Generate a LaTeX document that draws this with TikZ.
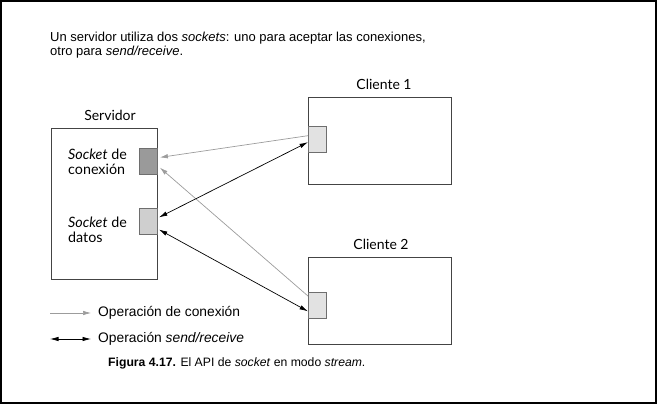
\documentclass[tikz,border=0pt]{standalone}
\usepackage{fontspec}
\setmainfont{Liberation Sans}
\newfontfamily\labfont{Lato}
\usetikzlibrary{arrows.meta,calc}
\definecolor{boxline}{HTML}{444444}
\definecolor{connfill}{HTML}{9A9A9A}
\definecolor{datafill}{HTML}{CFCFCF}
\definecolor{clifill}{HTML}{E2E2E2}
\definecolor{sockline}{HTML}{6E6E6E}
\definecolor{grayline}{HTML}{9C9C9C}
\tikzset{
  hostbox/.style={draw=boxline, line width=0.9pt, fill=white, inner sep=0pt, anchor=north west},
  sockbox/.style={draw=sockline, line width=0.9pt, inner sep=0pt, minimum width=18pt, minimum height=26pt, anchor=north west},
  hostlab/.style={font=\labfont\fontsize{14}{15}\selectfont, anchor=base},
  socklab/.style={font=\labfont\fontsize{14.3}{15}\selectfont, align=left, anchor=base west, inner sep=0pt},
  connarrow/.style={draw=grayline, line width=0.7pt, -{Latex[length=8pt,width=4.5pt]}},
  sendarrow/.style={draw=black, line width=0.7pt, {Latex[length=8.5pt,width=4.5pt]}-{Latex[length=8.5pt,width=4.5pt]}},
  intro/.style={font=\fontsize{13}{14}\selectfont, anchor=base west, inner sep=0pt},
  legtext/.style={font=\fontsize{13.8}{15}\selectfont, anchor=west, inner sep=0pt},
  captext/.style={font=\fontsize{12.2}{14}\selectfont, anchor=base west, inner sep=0pt}
}
\begin{document}
\begin{tikzpicture}[x=1pt,y=-1pt]
\useasboundingbox (0,0) rectangle (657,404);
\draw[line width=2pt] (1,1) rectangle (656,403);
% intro text
\node[intro] (t1) at (50,42) {Un servidor utiliza dos \textit{sockets}: uno para aceptar las conexiones,};
\node[intro] (t2) at (50,56) {otro para \textit{send/receive}.};
% server
\node[hostbox, minimum width=106pt, minimum height=151pt] (srv) at (51,128) {};
\node[hostlab] (srvlab) at (110,121) {Servidor};
\node[sockbox, fill=connfill] (sc) at (139,148) {};
\node[sockbox, fill=datafill] (sd) at (139,208) {};
\node[socklab] (lc) at (68,160) {\textit{Socket} de};
\node[socklab] (lc2) at (68,175) {conexión};
\node[socklab] (ld) at (68,227) {\textit{Socket} de};
\node[socklab] (ld2) at (68,242) {datos};
% clients
\node[hostbox, minimum width=143pt, minimum height=87pt] (c1) at (308,97) {};
\node[hostlab] (c1lab) at (384,90) {Cliente 1};
\node[sockbox, fill=clifill] (s1) at (308,126) {};
\node[hostbox, minimum width=143pt, minimum height=87pt] (c2) at (308,257) {};
\node[hostlab] (c2lab) at (381,249) {Cliente 2};
\node[sockbox, fill=clifill] (s2) at (308,292) {};
% arrows
\draw[connarrow] ($(s1.north west)!0.36!(s1.south west)$) -- ($(sc.north east)!0.35!(sc.south east)+(2,0)$);
\draw[connarrow] ($(s2.north west)!0.15!(s2.south west)$) -- ($(sc.north east)!0.73!(sc.south east)+(2,0)$);
\draw[sendarrow] ($(s1.north west)!0.6!(s1.south west)$) -- ($(sd.north east)!0.35!(sd.south east)+(1,0)$);
\draw[sendarrow] ($(s2.north west)!0.72!(s2.south west)$) -- ($(sd.north east)!0.8!(sd.south east)+(1,0)$);
% legend
\coordinate (la1) at (50,313);
\coordinate (lb1) at (91,313);
\coordinate (la2) at (50,339);
\coordinate (lb2) at (91,339);
\draw[connarrow] (la1) -- (lb1);
\draw[sendarrow] (la2) -- (lb2);
\node[legtext] (lg1) at (98,313) {Operación de conexión};
\node[legtext] (lg2) at (98,339) {Operación \textit{send/receive}};
% caption
\node[captext] (cap) at (108,366) {\textbf{Figura 4.17.} El API de \textit{socket} en modo \textit{stream}.};
\end{tikzpicture}
\end{document}
